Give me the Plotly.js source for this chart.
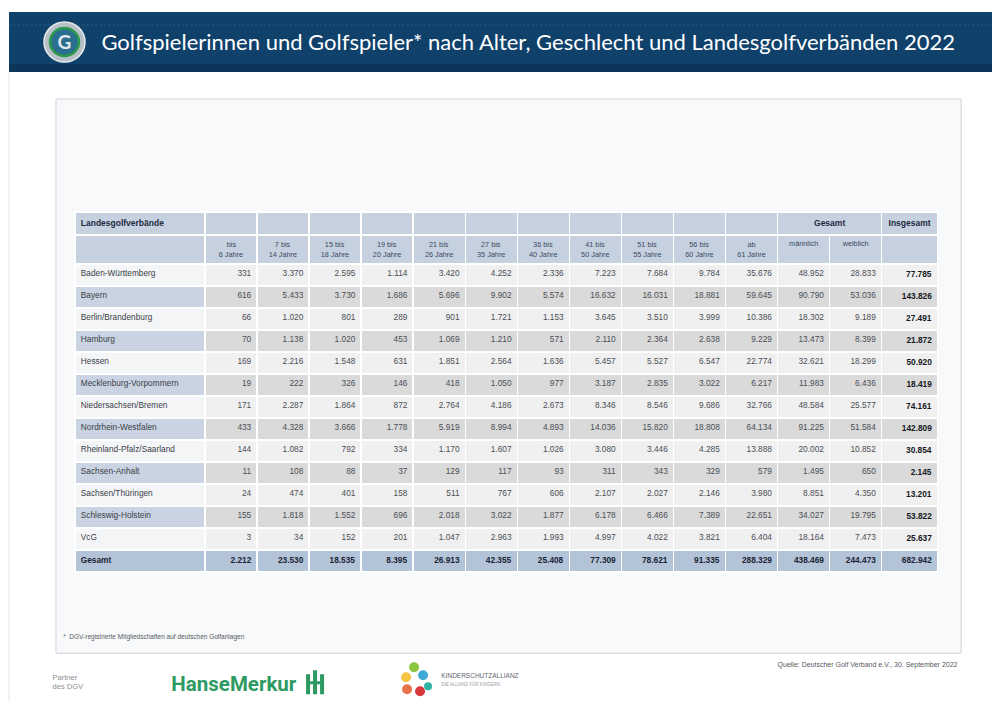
<!DOCTYPE html>
<html>
<head>
<meta charset="utf-8">
<script src="https://cdn.plot.ly/plotly-3.0.1.min.js"></script>
<style>
html,body{margin:0;padding:0;background:#fff;overflow:hidden;}
#wrap{width:992px;height:701px;overflow:hidden;position:relative;}
#chart{position:absolute;left:0;top:0;transform-origin:0 0;}
</style>
</head>
<body>
<div id="wrap"><div id="chart"></div></div>
<script>
// ---------- data ----------
const regions = ["Baden-Württemberg","Bayern","Berlin/Brandenburg","Hamburg","Hessen","Mecklenburg-Vorpommern","Niedersachsen/Bremen","Nordrhein-Westfalen","Rheinland-Pfalz/Saarland","Sachsen-Anhalt","Sachsen/Thüringen","Schleswig-Holstein","VcG"];
const ageTop = ["bis","7 bis","15 bis","19 bis","21 bis","27 bis","36 bis","41 bis","51 bis","56 bis","ab"];
const ageBottom = ["6 Jahre","14 Jahre","18 Jahre","20 Jahre","26 Jahre","35 Jahre","40 Jahre","50 Jahre","55 Jahre","60 Jahre","61 Jahre"];
const bis6    = [331,616,66,70,169,19,171,433,144,11,24,155,3];
const j7_14   = [3370,5433,1020,1138,2216,222,2287,4328,1082,108,474,1818,34];
const j15_18  = [2595,3730,801,1020,1548,326,1864,3666,792,88,401,1552,152];
const j19_20  = [1114,1686,289,453,631,146,872,1778,334,37,158,696,201];
const j21_26  = [3420,5696,901,1069,1851,418,2764,5919,1170,129,511,2018,1047];
const j27_35  = [4252,9902,1721,1210,2564,1050,4186,8994,1607,117,767,3022,2963];
const j36_40  = [2336,5574,1153,571,1636,977,2673,4893,1026,93,606,1877,1993];
const j41_50  = [7223,16632,3645,2110,5457,3187,8346,14036,3080,311,2107,6178,4997];
const j51_55  = [7684,16031,3510,2364,5527,2835,8546,15820,3446,343,2027,6466,4022];
const j56_60  = [9784,18881,3999,2638,6547,3022,9686,18808,4285,329,2146,7389,3821];
const ab61    = [35676,59645,10386,9229,22774,6217,32766,64134,13888,579,3980,22651,6404];
const maennlich = [48952,90790,18302,13473,32621,11983,48584,91225,20002,1495,8851,34027,18164];
const weiblich  = [28833,53036,9189,8399,18299,6436,25577,51584,10852,650,4350,19795,7473];
const insgesamt = [77785,143826,27491,21872,50920,18419,74161,142809,30854,2145,13201,53822,25637];
const gesamtLabel = "Gesamt";
const gesamtRow = [2212,23530,18535,8395,26913,42355,25408,77309,78621,91335,288329,438469,244473,682942];

// ---------- helpers ----------
const W = 992, H = 701;
const S = 0.72;                 // the figure is drawn larger, then scaled down to 992x701
const f = v => v / S;           // screen pixels -> figure units
const px = x => x / W;
const py = y => 1 - y / H;
const fmt = n => String(n).replace(/\B(?=(\d{3})+(?!\d))/g, ".");
const NB = "\u00a0";
const centred = (a, b) => {
  const d = b.length - a.length;
  const pad = NB.repeat(Math.max(0, Math.round(d * 0.9)));
  return pad + a + "<br>" + b;
};

const dataCols = [bis6,j7_14,j15_18,j19_20,j21_26,j27_35,j36_40,j41_50,j51_55,j56_60,ab61,maennlich,weiblich,insgesamt];
const nRows = regions.length;

const cellValues = [];
cellValues.push(regions.concat(["<b>" + gesamtLabel + "</b>"]));
dataCols.forEach((col, ci) => {
  const isTotal = ci === dataCols.length - 1;
  const vals = col.map(v => isTotal ? "<b>" + fmt(v) + "</b>" : fmt(v));
  vals.push("<b>" + fmt(gesamtRow[ci]) + "</b>");
  cellValues.push(vals);
});

const firstFill = [], dataFill = [];
for (let i = 0; i < nRows; i++) {
  firstFill.push(i % 2 === 0 ? "#f4f5f7" : "#c9d3e1");
  dataFill.push(i % 2 === 0 ? "#f0f0f0" : "#dadada");
}
firstFill.push("#b3c3d8"); dataFill.push("#b3c3d8");
const fills = [firstFill].concat(dataCols.map(() => dataFill));

const colorFor = ci => ci === 0 ? "#3a3f48" : (ci === dataCols.length ? "#15181d" : "#4a4e55");
const fontColorsFull = [];
for (let ci = 0; ci <= dataCols.length; ci++) {
  const arr = [];
  for (let i = 0; i < nRows; i++) arr.push(colorFor(ci));
  arr.push("#1c2535");
  fontColorsFull.push(arr);
}

const colW2 = [130].concat(Array(11).fill(52.1)).concat([52, 52, 56]);
const colW1 = [130].concat(Array(11).fill(52.1)).concat([104, 56]);

const hdrColor = "#c6d1e0";
const fam = "Liberation Sans, Arial, sans-serif";

const hdr2 = [""].concat(ageTop.map((t, i) => centred(t, ageBottom[i]))).concat(["männlich", "weiblich", ""]);

const trHeader1 = {
  type: "table",
  domain: {x: [px(75), px(938)], y: [py(250), py(212)]},
  columnwidth: colW1,
  header: {
    values: ["<b>Landesgolfverbände</b>"].concat(Array(11).fill("")).concat(["<b>Gesamt</b>", "<b>Insgesamt</b>"]),
    align: ["left"].concat(Array(11).fill("center")).concat(["center", "center"]),
    fill: {color: hdrColor},
    line: {color: "#ffffff", width: f(1.5)},
    font: {family: fam, size: f(8.5), color: "#1c2a40"},
    height: f(23)
  },
  cells: {
    values: Array(14).fill(0).map(() => [""]),
    fill: {color: hdrColor},
    line: {color: hdrColor, width: 0},
    font: {family: fam, size: 1, color: hdrColor},
    height: 2
  }
};

const trMain = {
  type: "table",
  domain: {x: [px(75), px(938)], y: [py(600), py(235)]},
  columnwidth: colW2,
  header: {
    values: hdr2,
    align: "center",
    fill: {color: hdrColor},
    line: {color: "#ffffff", width: f(1.5)},
    font: {family: fam, size: f(7.3), color: "#3a4a62"},
    height: f(28)
  },
  cells: {
    values: cellValues,
    align: ["left"].concat(Array(14).fill("right")),
    fill: {color: fills},
    line: {color: "#ffffff", width: f(1.5)},
    font: {family: fam, size: f(8.3), color: fontColorsFull},
    height: f(22)
  }
};

const rect = (x0, x1, y0, y1, color, extra) => Object.assign({type: "rect", xref: "paper", yref: "paper",
  x0: px(x0), x1: px(x1), y0: py(y1), y1: py(y0), fillcolor: color, line: {width: 0}, layer: "below"}, extra || {});
const circ = (x0, x1, y0, y1, color, extra) => Object.assign({type: "circle", xref: "paper", yref: "paper",
  x0: px(x0), x1: px(x1), y0: py(y1), y1: py(y0), fillcolor: color, line: {width: 0}, layer: "below"}, extra || {});

const shapes = [
  {type: "line", xref: "paper", yref: "paper", x0: px(9), x1: px(9), y0: py(72), y1: py(701), line: {color: "#e2e4e6", width: f(1)}, layer: "below"},
  rect(9, 992, 12, 72, "#0f416b"),
  rect(9, 992, 64, 72, "#0b3559"),
  {type: "line", xref: "paper", yref: "paper", x0: px(9), x1: px(992), y0: py(25), y1: py(25), line: {color: "#2d5c85", width: f(1), dash: "dot"}, layer: "below"},
  circ(44, 85, 22, 62, "#b7c0c8", {line: {color: "#e6eaee", width: f(1.5)}}),
  circ(50, 79, 28, 56, "#2a6f8e", {line: {color: "#2e9a4c", width: f(2.5)}}),
  rect(56, 961, 99, 653, "#f8f9fb", {line: {color: "#cfd3d8", width: f(1)}}),
  rect(306, 310, 674, 694, "#2e9a63"),
  rect(313, 317, 670, 694, "#2e9a63"),
  rect(320, 324, 674, 694, "#2e9a63"),
  rect(306, 324, 681, 684, "#2e9a63"),
  circ(409, 419, 662, 672, "#8cc63f"),
  circ(401, 411, 672, 682, "#f6c343"),
  circ(418, 428, 670, 680, "#3fa9d8"),
  circ(402, 412, 684, 694, "#e8734a"),
  circ(415, 425, 686, 696, "#d9383f"),
  circ(424, 432, 682, 690, "#2bb3a3")
];

const ann = (text, x, y, anchor, size, color, family, extra) => Object.assign({text: text, x: px(x), y: py(y),
  xref: "paper", yref: "paper", showarrow: false, xanchor: anchor, yanchor: "middle",
  font: {family: family || fam, size: f(size), color: color}}, extra || {});

const annotations = [
  ann("<b>G</b>", 64.5, 42, "center", 19, "#e3e9ee", "Lato, sans-serif"),
  ann("Golfspielerinnen und Golfspieler* nach Alter, Geschlecht und Landesgolfverbänden 2022", 100, 42, "left", 22, "#ffffff", "Lato, sans-serif"),
  ann("*  DGV-registrierte Mitgliedschaften auf deutschen Golfanlagen", 62, 637, "left", 6.5, "#555a60"),
  ann("Partner<br>des DGV", 51, 682, "left", 7.5, "#8a8d92", fam, {align: "left"}),
  ann("<b>HanseMerkur</b>", 170, 684, "left", 20.5, "#2e9a63", "Roboto, sans-serif"),
  ann("KINDERSCHUTZALLIANZ", 440, 676, "left", 6.5, "#5f6670"),
  ann("DIE ALLIANZ FÜR KINDERN", 440, 684, "left", 4.5, "#9aa0a8"),
  ann("Quelle: Deutscher Golf Verband e.V., 30. September 2022", 959, 665, "right", 7, "#555a60")
];

const layout = {
  width: f(W), height: f(H),
  margin: {l: 0, r: 0, t: 0, b: 0},
  paper_bgcolor: "#ffffff",
  plot_bgcolor: "#ffffff",
  showlegend: false,
  shapes: shapes,
  annotations: annotations
};

const el = document.getElementById("chart");
Plotly.newPlot(el, [trHeader1, trMain], layout, {displayModeBar: false, staticPlot: true}).then(() => {
  // text is measured at full size first; the finished figure is then scaled to fit the page
  el.style.transform = "scale(" + S + ")";
});
</script>
</body>
</html>
